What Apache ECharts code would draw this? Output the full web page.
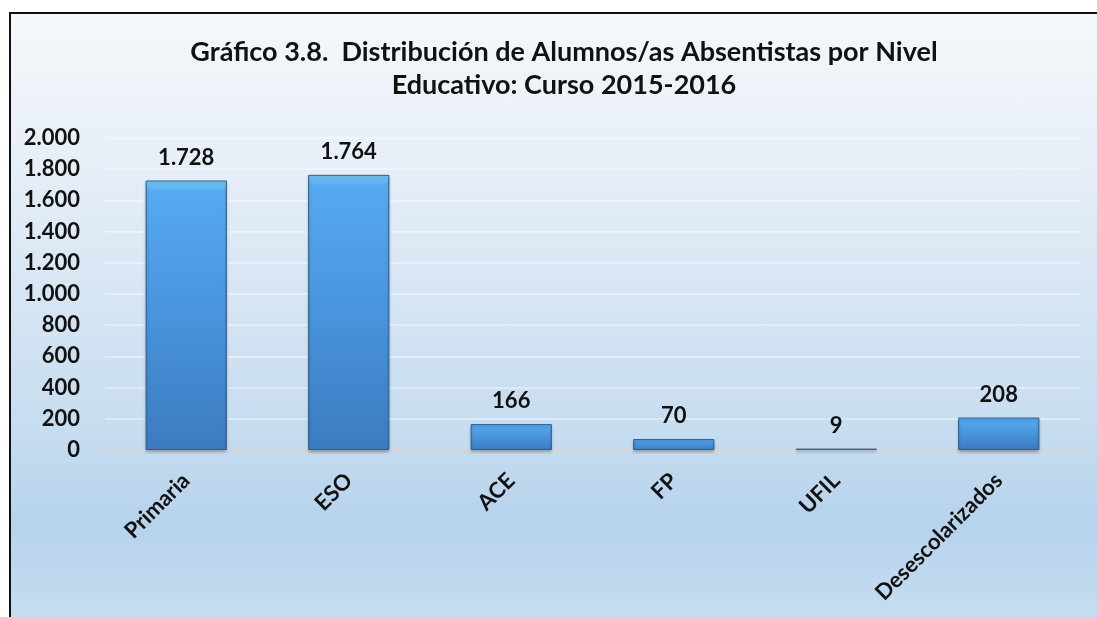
<!DOCTYPE html>
<html>
<head>
<meta charset="utf-8">
<script src="https://cdn.jsdelivr.net/npm/echarts@6/dist/echarts.min.js"></script>
<style>
    html, body { margin: 0; padding: 0; background: #fff; }
    #wrap { position: relative; width: 1097px; height: 617px; overflow: hidden; }
    #frame {
        position: absolute; left: 9px; top: 12px; width: 1100px; height: 620px;
        border-top: 2px solid #111; border-left: 2px solid #111;
        background: linear-gradient(to bottom, #f5f8fb 0%, #e6eef7 25%, #c4dbef 70%, #b6d3ec 82%, #c9def1 100%);
    }
    #main { position: absolute; left: 0; top: 0; width: 1097px; height: 617px; }
</style>
</head>
<body>
<div id="wrap">
    <div id="frame"></div>
    <div id="main"></div>
</div>
<script>
    // datos del gráfico
    var categories = ['Primaria', 'ESO', 'ACE', 'FP', 'UFIL', 'Desescolarizados'];
    var values = [1728, 1764, 166, 70, 9, 208];
    var titleText = 'Gráfico 3.8.  Distribución de Alumnos/as Absentistas por Nivel\nEducativo: Curso 2015-2016';

    function miles(v) {
        return String(v).replace(/\B(?=(\d{3})+(?!\d))/g, '.');
    }

    var chart = echarts.init(document.getElementById('main'), null, {renderer: 'canvas'});
    var font = 'Lato, "Open Sans", sans-serif';

    var option = {
        backgroundColor: 'transparent',
        animation: false,
        title: {
            text: titleText,
            left: 559,
            top: 31,
            textAlign: 'center',
            textStyle: {
                fontFamily: font,
                fontWeight: 'bold',
                fontSize: 27,
                lineHeight: 33,
                color: '#111'
            }
        },
        grid: {
            left: 105,
            right: 17,
            top: 138,
            bottom: 167
        },
        xAxis: {
            type: 'category',
            data: categories,
            axisLine: {lineStyle: {color: '#d6d6d6', width: 3}},
            axisTick: {show: false},
            axisLabel: {
                rotate: 45,
                margin: 27,
                fontFamily: font,
                fontWeight: 'bold',
                fontSize: 22,
                color: '#111'
            }
        },
        yAxis: {
            type: 'value',
            min: 0,
            max: 2000,
            interval: 200,
            axisLine: {show: false},
            axisTick: {show: false},
            splitLine: {lineStyle: {color: 'rgba(255,255,255,0.5)', width: 1.5}},
            axisLabel: {
                margin: 25,
                fontFamily: font,
                fontWeight: 'bold',
                fontSize: 22,
                color: '#111',
                formatter: miles
            }
        },
        series: [{
            type: 'bar',
            data: values,
            barWidth: '50%',
            itemStyle: {
                color: new echarts.graphic.LinearGradient(0, 0, 0, 1, [
                    {offset: 0, color: '#7ccbfa'},
                    {offset: 0.04, color: '#56aaf0'},
                    {offset: 0.5, color: '#4994dc'},
                    {offset: 1, color: '#3b7bc0'}
                ]),
                borderColor: '#2b5f93',
                borderWidth: 1,
                shadowColor: 'rgba(0,0,0,0.25)',
                shadowBlur: 3,
                shadowOffsetY: 2
            },
            label: {
                show: true,
                position: 'top',
                distance: 12,
                fontFamily: font,
                fontWeight: 'bold',
                fontSize: 22,
                color: '#111',
                formatter: function (p) { return miles(p.value); }
            }
        }]
    };

    chart.setOption(option);
</script>
</body>
</html>
